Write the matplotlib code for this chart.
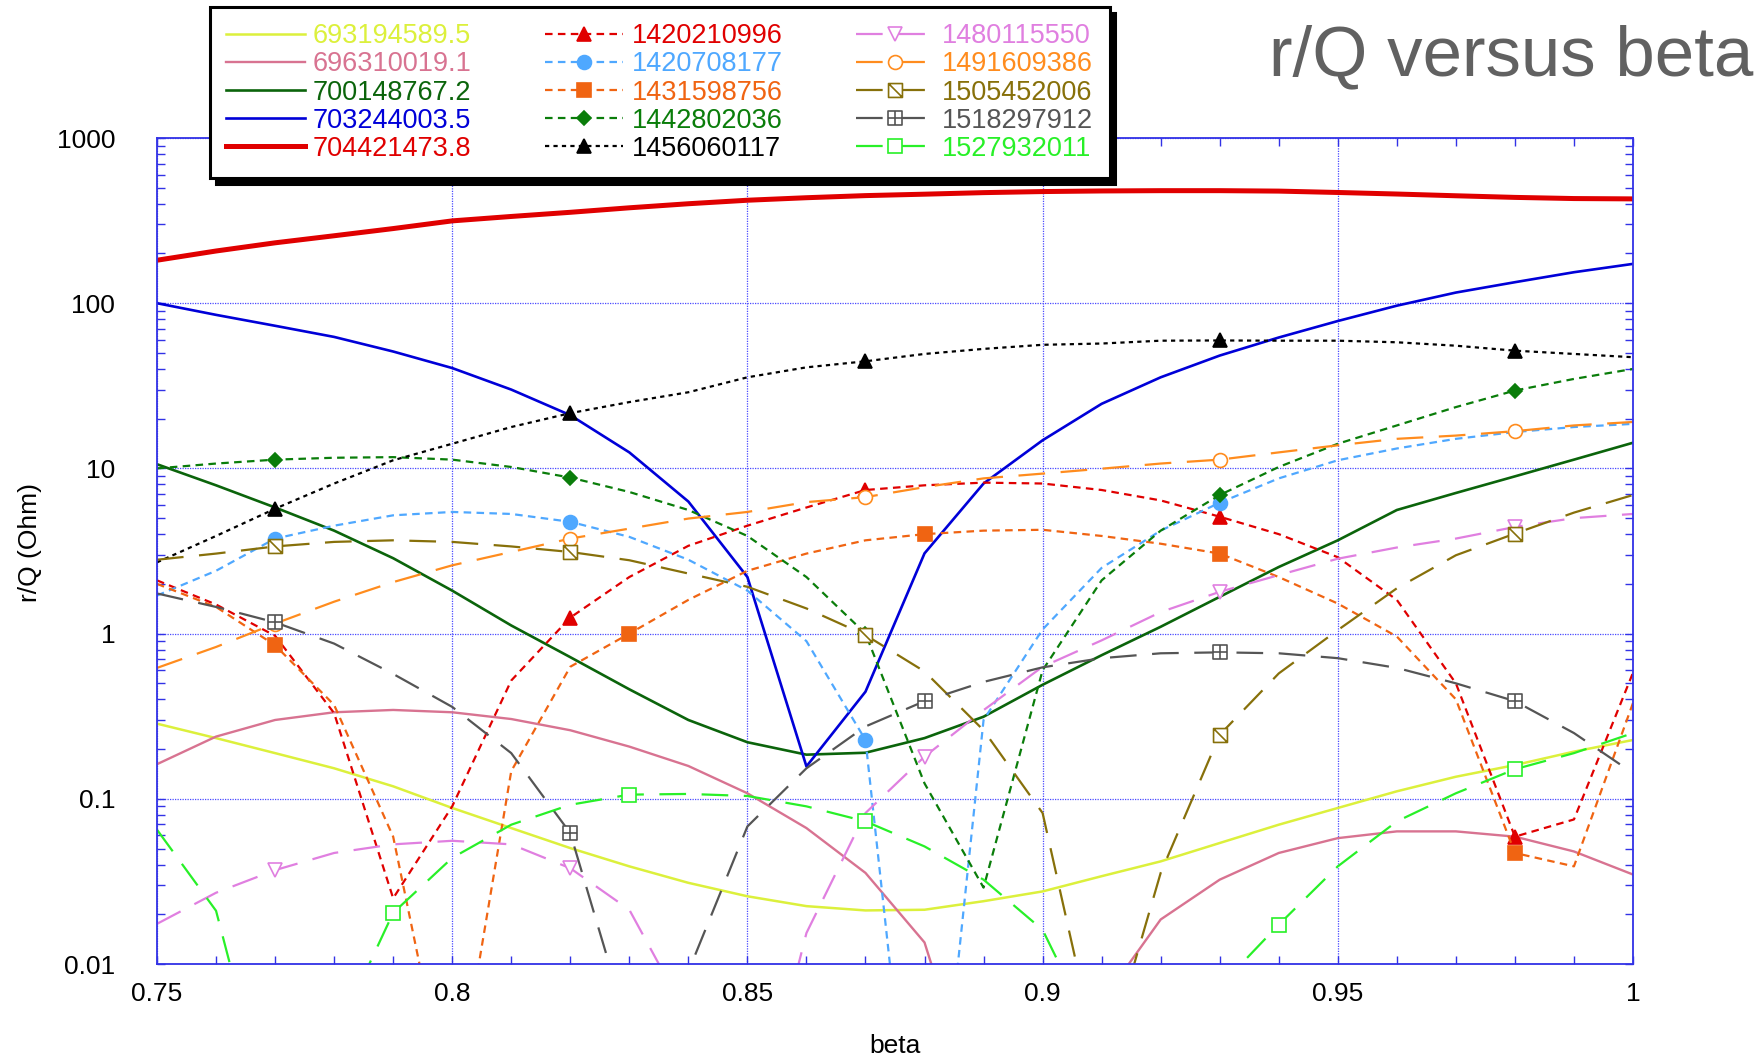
import numpy as np
import matplotlib
matplotlib.use('Agg')
import matplotlib.pyplot as plt
from matplotlib.path import Path
from matplotlib.ticker import FixedLocator, NullFormatter, MultipleLocator, LogLocator

plt.rcParams['font.family'] = ['Liberation Sans', 'DejaVu Sans']

# beta sample points
beta = [0.75, 0.76, 0.77, 0.78, 0.79, 0.80, 0.81, 0.82, 0.83, 0.84, 0.85, 0.86, 0.87,
        0.88, 0.89, 0.90, 0.91, 0.92, 0.93, 0.94, 0.95, 0.96, 0.97, 0.98, 0.99, 1.00]

# r/Q (Ohm) per mode (values below 0.01 are off-scale)
rq_693194589 = [0.285, 0.233, 0.189, 0.153, 0.119, 0.088, 0.0665, 0.0503, 0.039, 0.031, 0.0257, 0.0224, 0.0211,
                0.0213, 0.024, 0.0275, 0.034, 0.0418, 0.054, 0.0697, 0.088, 0.111, 0.136, 0.16, 0.193, 0.227]
rq_696310019 = [0.162, 0.238, 0.30, 0.334, 0.345, 0.334, 0.304, 0.26, 0.207, 0.158, 0.108, 0.0665, 0.0356,
                0.0135, 0.001, 0.0005, 0.0059, 0.0186, 0.0324, 0.047, 0.0578, 0.0635, 0.0635, 0.059, 0.048, 0.0348]
rq_700148767 = [10.6, 7.9, 5.8, 4.2, 2.86, 1.82, 1.12, 0.72, 0.46, 0.3, 0.22, 0.185, 0.19,
                0.233, 0.314, 0.49, 0.74, 1.1, 1.67, 2.53, 3.67, 5.6, 7.1, 8.95, 11.3, 14.3]
rq_703244003 = [100, 85, 73, 62.5, 51, 40.5, 30, 21, 12.5, 6.3, 2.2, 0.157, 0.445,
                3.06, 8.1, 14.8, 24.6, 35.6, 48.2, 62, 78, 96.6, 116, 134, 154, 173]
rq_704421473 = [182, 207, 232, 256, 283, 315, 335, 355, 378, 400, 420, 435, 448,
                457, 467, 474, 478, 480, 480, 477, 468, 458, 447, 437, 430, 428]
rq_1420210996 = [2.1, 1.5, 0.97, 0.33, 0.025, 0.09, 0.52, 1.25, 2.2, 3.4, 4.5, 5.8, 7.4,
                 7.9, 8.2, 8.1, 7.4, 6.4, 5.1, 4.0, 2.9, 1.6, 0.5, 0.059, 0.075, 0.58]
rq_1420708177 = [1.7, 2.4, 3.76, 4.5, 5.2, 5.45, 5.3, 4.75, 3.85, 2.8, 1.82, 0.9, 0.227,
                 0.00012, 0.3, 1.06, 2.5, 4.2, 6.2, 8.7, 11.2, 13.2, 15.1, 16.6, 17.8, 18.6]
rq_1431598756 = [2.0, 1.45, 0.85, 0.37, 0.059, 0.0011, 0.147, 0.63, 1.0, 1.6, 2.4, 3.05, 3.67,
                 4.0, 4.2, 4.25, 3.9, 3.5, 3.05, 2.2, 1.52, 0.96, 0.40, 0.047, 0.039, 0.38]
rq_1442802036 = [10.0, 10.7, 11.3, 11.6, 11.7, 11.3, 10.2, 8.8, 7.2, 5.6, 3.9, 2.2, 1.0,
                 0.124, 0.029, 0.6, 2.1, 4.2, 6.9, 10.2, 14.1, 18.2, 23.5, 29.6, 34.8, 40]
rq_1456060117 = [2.7, 3.9, 5.7, 8.1, 11.2, 14.1, 17.8, 21.6, 25.2, 28.9, 35.6, 40.9, 44.5,
                 49.3, 52.9, 56, 57, 59.3, 59.5, 59.3, 59.3, 58, 55.3, 51.6, 49.3, 47.1]
rq_1480115550 = [0.0175, 0.027, 0.037, 0.047, 0.053, 0.0557, 0.053, 0.038, 0.0213, 0.0047, 0.0006, 0.0154, 0.082,
                 0.18, 0.344, 0.63, 0.91, 1.35, 1.79, 2.26, 2.84, 3.32, 3.76, 4.42, 5.0, 5.3]
rq_1491609386 = [0.62, 0.83, 1.15, 1.56, 2.05, 2.59, 3.12, 3.76, 4.32, 4.97, 5.45, 6.25, 6.7,
                 7.7, 8.7, 9.3, 9.96, 10.7, 11.3, 12.5, 13.8, 15.1, 15.8, 16.8, 18.2, 19.1]
rq_1505452006 = [2.8, 3.05, 3.37, 3.59, 3.67, 3.59, 3.37, 3.12, 2.78, 2.31, 1.92, 1.42, 0.98,
                 0.59, 0.26, 0.082, 0.0021, 0.0356, 0.244, 0.574, 1.05, 1.88, 2.98, 4.03, 5.4, 6.9]
rq_1518297912 = [1.75, 1.45, 1.17, 0.87, 0.57, 0.36, 0.189, 0.062, 0.0039, 0.009, 0.068, 0.153, 0.274,
                 0.39, 0.51, 0.625, 0.71, 0.76, 0.77, 0.76, 0.71, 0.62, 0.5, 0.39, 0.25, 0.143]
rq_1527932011 = [0.065, 0.021, 0.0009, 0.0035, 0.0204, 0.0439, 0.0697, 0.092, 0.106, 0.107, 0.104, 0.09, 0.073,
                 0.0515, 0.0324, 0.0161, 0.003, 0.002, 0.0073, 0.0173, 0.039, 0.073, 0.108, 0.151, 0.189, 0.25]

labels = ["693194589.5", "696310019.1", "700148767.2", "703244003.5", "704421473.8",
          "1420210996", "1420708177", "1431598756", "1442802036", "1456060117",
          "1480115550", "1491609386", "1505452006", "1518297912", "1527932011"]
series = [rq_693194589, rq_696310019, rq_700148767, rq_703244003, rq_704421473,
          rq_1420210996, rq_1420708177, rq_1431598756, rq_1442802036, rq_1456060117,
          rq_1480115550, rq_1491609386, rq_1505452006, rq_1518297912, rq_1527932011]

# custom markers: square with diagonal, square with plus
M, L, C = Path.MOVETO, Path.LINETO, Path.CLOSEPOLY
sq_diag = Path([(-1, -1), (1, -1), (1, 1), (-1, 1), (-1, -1), (-1, 1), (1, -1)],
               [M, L, L, L, C, M, L])
sq_plus = Path([(-1, -1), (1, -1), (1, 1), (-1, 1), (-1, -1), (0, -1), (0, 1), (-1, 0), (1, 0)],
               [M, L, L, L, C, M, L, M, L])

short = (3.4, 2.4)
dotted = (1.9, 1.9)
longd = (12, 7)
# color, lw, dashes, marker, ms, facecolor, markevery
styles = [
    ("#dcf03c", 1.8, None, None, 0, None, None),
    ("#d87391", 1.7, None, None, 0, None, None),
    ("#0b640b", 1.9, None, None, 0, None, None),
    ("#0000d8", 1.9, None, None, 0, None, None),
    ("#e00000", 3.6, None, None, 0, None, None),
    ("#e00000", 1.6, short, "^", 10, "#e00000", [7, 12, 18, 23]),
    ("#4fa8ff", 1.6, short, "o", 10, "#4fa8ff", [2, 7, 12, 18]),
    ("#f06412", 1.6, short, "s", 10, "#f06412", [2, 8, 13, 18, 23]),
    ("#0a7d0a", 1.6, short, "D", 7, "#0a7d0a", [2, 7, 12, 18, 23]),
    ("#000000", 1.6, dotted, "^", 10, "#000000", [2, 7, 12, 18, 23]),
    ("#e07fe0", 1.6, longd, "v", 10, "white", [2, 7, 13, 18, 23]),
    ("#ff8c1e", 1.6, longd, "o", 10, "white", [2, 7, 12, 18, 23]),
    ("#87700a", 1.6, longd, sq_diag, 10, "white", [2, 7, 12, 18, 23]),
    ("#555555", 1.6, longd, sq_plus, 10, "white", [2, 7, 13, 18, 23]),
    ("#28f028", 1.6, longd, "s", 10, "white", [4, 8, 12, 19, 23]),
]

blue = "#3232e6"

fig = plt.figure(figsize=(17.62, 10.59), dpi=100)
ax = fig.add_axes([157 / 1762, 95 / 1059, 1476 / 1762, 826 / 1059])

handles = []
for lab, vals, st in zip(labels, series, styles):
    col, lw, dash, mk, ms, mfc, mev = st
    kw = dict(color=col, lw=lw, label=lab)
    if mk is not None:
        kw.update(marker=mk, markersize=ms, markerfacecolor=mfc, markeredgecolor=col,
                  markeredgewidth=1.2, markevery=mev)
    line, = ax.plot(beta, vals, **kw)
    if dash is not None:
        line.set_dashes(dash)
    handles.append(line)

ax.set_yscale('log')
ax.set_xlim(0.75, 1.0)
ax.set_ylim(0.01, 1000)

ax.yaxis.set_major_locator(FixedLocator([0.01, 0.1, 1, 10, 100, 1000]))
ax.set_yticklabels(['0.01', '0.1', '1', '10', '100', '1000'])
ax.yaxis.set_minor_locator(LogLocator(base=10, subs=np.arange(2, 10)))
ax.yaxis.set_minor_formatter(NullFormatter())
ax.set_xticks([0.75, 0.8, 0.85, 0.9, 0.95, 1.0])
ax.set_xticklabels(['0.75', '0.8', '0.85', '0.9', '0.95', '1'])
ax.xaxis.set_minor_locator(MultipleLocator(0.01))

ax.tick_params(which='both', direction='in', top=True, right=True, color=blue,
               length=5.5, width=1.0, labelsize=19)
ax.tick_params(axis='y', which='major', pad=30)
ax.tick_params(axis='x', which='major', pad=13)
for sp in ax.spines.values():
    sp.set_color(blue)
    sp.set_linewidth(1.3)
ax.grid(which='major', color='#4a4aff', linestyle=(0, (1, 1)), linewidth=0.9)

ax.set_xlabel('beta', fontsize=19)
ax.xaxis.set_label_coords(0.5, -0.085)
ax.set_ylabel('r/Q (Ohm)', fontsize=19)
ax.yaxis.set_label_coords(-0.078, 0.51)

fig.text(1753 / 1762, 1 - 75 / 1059, 'r/Q versus beta', ha='right', va='baseline',
         fontsize=51, color='#616161')

leg = fig.legend(handles, labels, ncol=3, loc='upper left',
                 bbox_to_anchor=(210 / 1762, 1 - 7 / 1059), fontsize=19.5,
                 labelcolor='linecolor', frameon=True, fancybox=False,
                 edgecolor='black', framealpha=1, handlelength=2.9,
                 handletextpad=0.3, columnspacing=2.7, labelspacing=0.08,
                 borderpad=0.6, borderaxespad=0,
                 shadow={'ox': 4, 'oy': -4, 'color': 'black', 'alpha': 1})
leg.get_frame().set_linewidth(2.2)

fig.savefig('out.png', dpi=100)
